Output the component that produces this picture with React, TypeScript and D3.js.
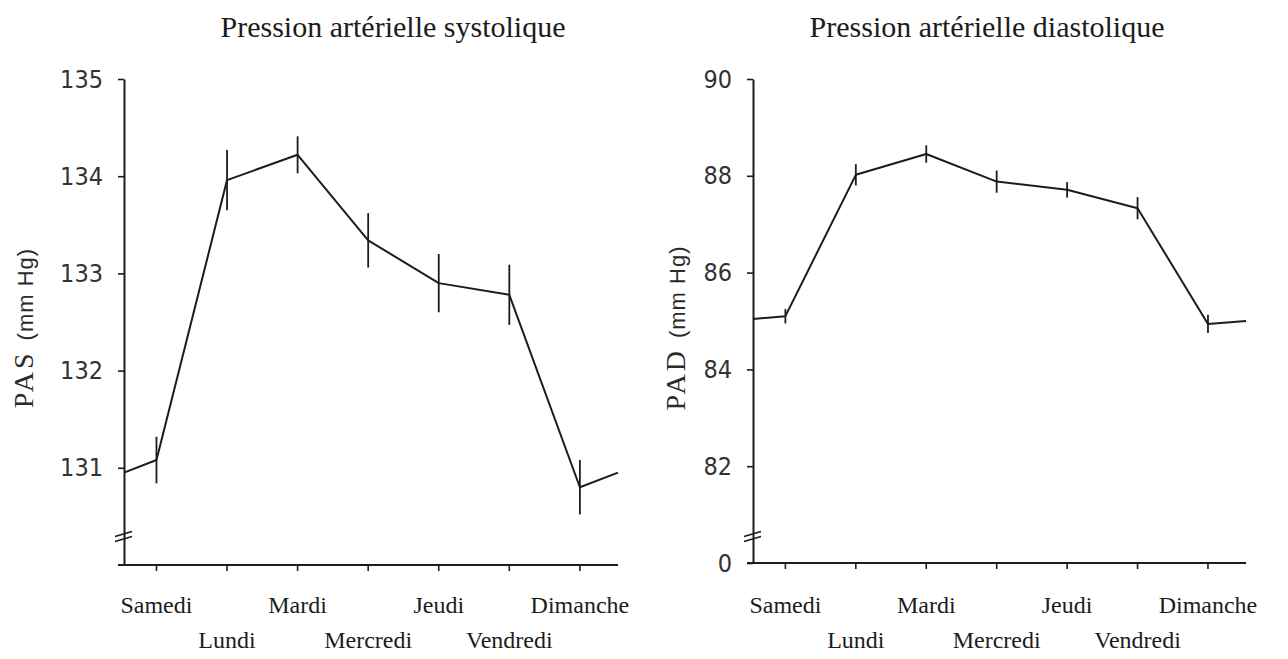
import React, { useRef, useEffect } from "react";
import * as d3 from "d3";

// days of the week, as printed under the x axis
const days = ["Samedi", "Lundi", "Mardi", "Mercredi", "Jeudi", "Vendredi", "Dimanche"];
const labelRow = [0, 1, 0, 1, 0, 1, 0];

// systolic pressure (mm Hg), mean and half error bar per day
const pasMean = [131.08, 133.96, 134.22, 133.34, 132.9, 132.78, 130.8];
const pasErr = [0.24, 0.31, 0.19, 0.28, 0.3, 0.31, 0.28];
const pasEdges = [130.95, 130.95]; // line continues to the axis / right end
const pasTicks = [131, 132, 133, 134, 135];

// diastolic pressure (mm Hg)
const padMean = [85.1, 88.02, 88.45, 87.88, 87.71, 87.33, 84.94];
const padErr = [0.15, 0.22, 0.18, 0.23, 0.16, 0.23, 0.19];
const padEdges = [85.04, 85.0];
const padTicks = [80, 82, 84, 86, 88, 90];

const ink = "#1c1c1c";
const serif = "'Liberation Serif', 'Times New Roman', serif";
const narrow = "'Liberation Sans Narrow', 'DejaVu Sans Condensed', sans-serif";

type PanelProps = {
  title: string;
  yName: string;
  mean: number[];
  err: number[];
  edges: number[];
  ticks: number[];
  domain: [number, number];
  tickFmt: (v: number) => string;
  axisX: number;
  endX: number;
  top: number;
  bottom: number;
  titleX: number;
  yTitleX: number;
};

const Panel = (p: PanelProps) => {
  const ref = useRef<SVGGElement>(null);

  useEffect(() => {
    const g = d3.select(ref.current);
    g.selectAll("*").remove();

    const x = d3.scaleLinear().domain([-0.46, 6.54]).range([p.axisX, p.endX]);
    const y = d3.scaleLinear().domain(p.domain).range([p.bottom, p.top]);

    // title
    g.append("text")
      .attr("x", p.titleX)
      .attr("y", 37)
      .attr("text-anchor", "middle")
      .style("font-family", serif)
      .style("font-size", "30px")
      .attr("fill", ink)
      .text(p.title);

    // y axis
    const yAxis = d3.axisLeft(y).tickValues(p.ticks).tickSize(6).tickSizeOuter(0).tickPadding(15).tickFormat(p.tickFmt as any);
    const ya = g.append("g").attr("transform", `translate(${p.axisX},0)`).call(yAxis);
    ya.select(".domain").attr("stroke", ink).attr("stroke-width", 2);
    ya.selectAll(".tick line").attr("stroke", ink).attr("stroke-width", 1.6);
    ya.selectAll(".tick text")
      .style("font-family", narrow)
      .style("font-size", "25px")
      .attr("fill", "#333");

    // axis break marks
    [-2.5, 2.5].forEach((o) => {
      g.append("line")
        .attr("x1", p.axisX - 9)
        .attr("x2", p.axisX + 8)
        .attr("y1", 539 + o)
        .attr("y2", 534 + o)
        .attr("stroke", ink)
        .attr("stroke-width", 1.6);
    });

    // x axis
    g.append("line")
      .attr("x1", p.axisX - 6)
      .attr("x2", p.endX)
      .attr("y1", p.bottom)
      .attr("y2", p.bottom)
      .attr("stroke", ink)
      .attr("stroke-width", 2);

    g.selectAll(".xtick")
      .data(days)
      .join("line")
      .attr("class", "xtick")
      .attr("x1", (d, i) => x(i))
      .attr("x2", (d, i) => x(i))
      .attr("y1", p.bottom)
      .attr("y2", p.bottom + 6)
      .attr("stroke", ink)
      .attr("stroke-width", 1.6);

    g.selectAll(".xlabel")
      .data(days)
      .join("text")
      .attr("class", "xlabel")
      .attr("x", (d, i) => x(i))
      .attr("y", (d, i) => (labelRow[i] ? 648 : 613))
      .attr("text-anchor", "middle")
      .style("font-family", serif)
      .style("font-size", "24px")
      .attr("fill", ink)
      .text((d) => d);

    // y axis title
    const yt = g.append("text")
      .attr("transform", `translate(${p.yTitleX},328) rotate(-90)`)
      .attr("text-anchor", "middle")
      .attr("fill", "#2a2a2a");
    yt.append("tspan")
      .style("font-family", serif)
      .style("font-size", "28px")
      .style("letter-spacing", "3px")
      .text(p.yName);
    yt.append("tspan")
      .attr("dx", 10)
      .style("font-family", "'Liberation Sans', sans-serif")
      .style("font-size", "22px")
      .style("letter-spacing", "1px")
      .text("(mm Hg)");

    // series line
    const pts: [number, number][] = [
      [-0.46, p.edges[0]],
      ...p.mean.map((v, i) => [i, v] as [number, number]),
      [6.54, p.edges[1]],
    ];
    const line = d3.line<[number, number]>().x((d) => x(d[0])).y((d) => y(d[1]));
    g.append("path")
      .attr("d", line(pts))
      .attr("fill", "none")
      .attr("stroke", ink)
      .attr("stroke-width", 2)
      .attr("stroke-linejoin", "round");

    // error bars
    g.selectAll(".err")
      .data(p.mean)
      .join("line")
      .attr("class", "err")
      .attr("x1", (d, i) => x(i))
      .attr("x2", (d, i) => x(i))
      .attr("y1", (d, i) => y(d - p.err[i]))
      .attr("y2", (d, i) => y(d + p.err[i]))
      .attr("stroke", ink)
      .attr("stroke-width", 1.8);
  }, []);

  return <g ref={ref} />;
};

export default function App() {
  return (
    <svg width={1288} height={659} style={{ position: "absolute", left: 0, top: 0, background: "#fff" }}>
      <Panel
        title="Pression artérielle systolique"
        yName="PAS"
        mean={pasMean}
        err={pasErr}
        edges={pasEdges}
        ticks={pasTicks}
        domain={[130, 135]}
        tickFmt={(v) => String(v)}
        axisX={124}
        endX={618}
        top={79}
        bottom={565}
        titleX={393}
        yTitleX={33}
      />
      <Panel
        title="Pression artérielle diastolique"
        yName="PAD"
        mean={padMean}
        err={padErr}
        edges={padEdges}
        ticks={padTicks}
        domain={[80, 90]}
        tickFmt={(v) => (v === 80 ? "0" : String(v))}
        axisX={753}
        endX={1246}
        top={79}
        bottom={563}
        titleX={987}
        yTitleX={685}
      />
    </svg>
  );
}
